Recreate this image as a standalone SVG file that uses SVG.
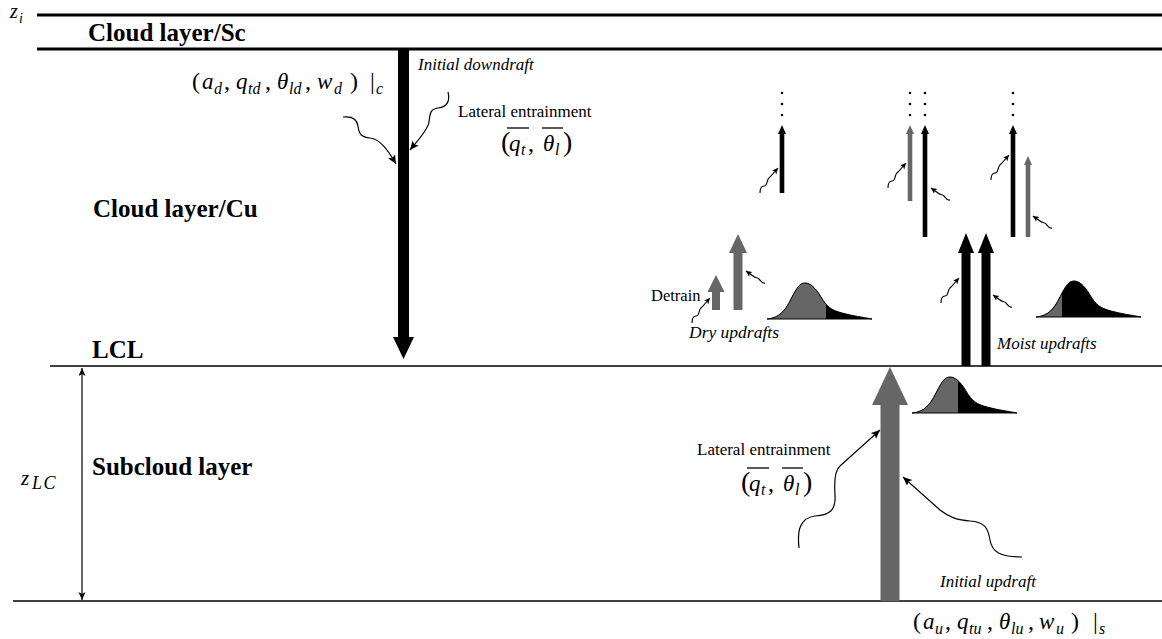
<svg xmlns="http://www.w3.org/2000/svg" xmlns:xlink="http://www.w3.org/1999/xlink" width="1162" height="639" viewBox="0 0 1162 639" font-family="'Liberation Serif', 'Times New Roman', Tinos, 'DejaVu Serif', 'Noto Serif', serif">
<style>
text{font-family:"Liberation Serif","Times New Roman",Tinos,"DejaVu Serif","Noto Serif",serif}
.lbl{font-weight:bold;font-size:25px;fill:#000}
.sm{font-size:17px;fill:#000}
.it{font-style:italic}
.m{font-size:23px;font-style:italic;fill:#000}
.r{font-style:normal;font-size:24px}
.s{font-size:16px}
.wave{fill:none;stroke:#000;stroke-width:1.1}
.wavel{fill:none;stroke:#000;stroke-width:1.2}
.g{fill:#666}
.k{fill:#000}
.ov{stroke:#000;stroke-width:1.3}
</style>
<defs>
<marker id="ah" markerUnits="userSpaceOnUse" markerWidth="10" markerHeight="10" refX="6" refY="3" orient="auto"><path d="M0,0 L6,3 L0,6 L1.5,3 z" fill="#000"/></marker>
<marker id="ahL" markerUnits="userSpaceOnUse" markerWidth="12" markerHeight="12" refX="9" refY="4" orient="auto"><path d="M0,0 L9,4 L0,8 L2,4 z" fill="#000"/></marker>
<marker id="ahZ" markerUnits="userSpaceOnUse" markerWidth="12" markerHeight="12" refX="8" refY="3.5" orient="auto-start-reverse"><path d="M0,0 L8,3.5 L0,7 L2,3.5 z" fill="#000"/></marker>
<path id="dist" d="M0,0 C12,-1 18,-8 24,-20 S33,-36 38,-36 S48,-32 54,-22 S64,-9 75,-6 S95,-2 105,0 Z"/>
<clipPath id="cDry"><rect x="-5" y="-50" width="64" height="60"/></clipPath>
<clipPath id="cMoist"><rect x="-5" y="-50" width="31" height="60"/></clipPath>
<clipPath id="cSub"><rect x="-5" y="-50" width="51" height="60"/></clipPath>
</defs>
<rect width="1162" height="639" fill="#fff"/>

<g id="layers">
  <line x1="37" y1="15" x2="1162" y2="15" stroke="#000" stroke-width="3"/>
  <line x1="37" y1="49" x2="1162" y2="49" stroke="#000" stroke-width="3"/>
  <line x1="50" y1="366" x2="1162" y2="366" stroke="#000" stroke-width="1.5"/>
  <line x1="13" y1="601" x2="1162" y2="601" stroke="#000" stroke-width="1.5"/>
  <text class="m" x="10" y="18" style="font-size:20px">z<tspan x="19" y="23" style="font-size:14px">i</tspan></text>
  <text class="lbl" x="88" y="41">Cloud layer/Sc</text>
  <text class="lbl" x="93" y="217">Cloud layer/Cu</text>
  <text class="lbl" x="92" y="358">LCL</text>
  <text class="lbl" x="92" y="475">Subcloud layer</text>
  <text class="m" x="21" y="485" style="font-size:21px">z<tspan x="32" y="489" style="font-size:18px;letter-spacing:1.5px">LC</tspan></text>
</g>

<g id="connectors">
  <line x1="82" y1="368" x2="82" y2="600" stroke="#000" stroke-width="1.2" marker-start="url(#ahZ)" marker-end="url(#ahZ)"/>
  <path class="wavel" d="M343,117 C352,116 357,119 358,126 C359,135 362,137 370,138 C380,139 388,150 396,164" marker-end="url(#ahL)"/>
  <path class="wavel" d="M448,92 C450,100 448,107 438,108 C430,109 430,114 429,122 C428,130 418,140 410,150" marker-end="url(#ahL)"/>
  <path class="wavel" d="M799,548 C797,530 800,518 815,516 C830,515 836,510 835,495 C834,480 835,470 840,466 L880,430" marker-end="url(#ahL)"/>
  <path class="wavel" d="M1022,557 C1000,557 992,552 990,540 C988,528 985,522 970,521 C958,520 950,518 940,510 L903,477" marker-end="url(#ahL)"/>
  <path class="wave" d="M760,193 c0,-4 1,-7 4,-7 c4,0 2,-7 6,-9 l8,-9" marker-end="url(#ah)"/>
  <path class="wave" d="M888,188 c0,-4 1,-7 4,-7 c4,0 2,-7 6,-9 l8,-9" marker-end="url(#ah)"/>
  <path class="wave" d="M991,180 c0,-4 1,-7 4,-7 c4,0 2,-7 6,-9 l8,-9" marker-end="url(#ah)"/>
  <path class="wave" d="M941,303 c0,-4 1,-7 4,-7 c4,0 2,-7 6,-9 l8,-9" marker-end="url(#ah)"/>
  <path class="wave" d="M692,323 c0,-4 1,-7 4,-7 c4,0 2,-7 6,-9 l8,-9" marker-end="url(#ah)"/>
  <path class="wave" d="M950,200 c-3,1 -4,-2 -6,-4 c-2,-2 -4,-1 -6,-3 l-7,-5" marker-end="url(#ah)"/>
  <path class="wave" d="M1052,228 c-3,1 -4,-2 -6,-4 c-2,-2 -4,-1 -6,-3 l-7,-5" marker-end="url(#ah)"/>
  <path class="wave" d="M1012,307 c-3,1 -4,-2 -6,-4 c-2,-2 -4,-1 -6,-3 l-7,-5" marker-end="url(#ah)"/>
  <path class="wave" d="M765,283 c-3,1 -4,-2 -6,-4 c-2,-2 -4,-1 -6,-3 l-7,-5" marker-end="url(#ah)"/>
</g>

<g id="downdraft">
  <rect class="k" x="398" y="49" width="11" height="289"/>
  <polygon class="k" points="393,337 414,337 403.5,359"/>
  <text class="sm it" x="418" y="70">Initial downdraft</text>
  <text class="m" y="89"><tspan class="r" x="192">(</tspan><tspan x="202">a</tspan><tspan class="s" x="214" y="94">d</tspan><tspan class="r" x="224" y="89">,</tspan><tspan x="236">q</tspan><tspan class="s" x="248" y="94">td</tspan><tspan class="r" x="265" y="89">,</tspan><tspan x="277">θ</tspan><tspan class="s" x="289" y="94">ld</tspan><tspan class="r" x="305" y="89">,</tspan><tspan x="317">w</tspan><tspan class="s" x="334" y="94">d</tspan><tspan class="r" x="350" y="89">)</tspan><tspan class="r" x="370">|</tspan><tspan class="s" x="376" y="94">c</tspan></text>
</g>

<g id="entrain-upper">
  <text class="sm" x="458" y="117">Lateral entrainment</text>
  <text class="m" y="151"><tspan class="r" x="501" style="font-size:28px">(</tspan><tspan x="509">q</tspan><tspan class="s" x="521" y="155">t</tspan><tspan class="r" x="528" y="151">,</tspan><tspan x="543">θ</tspan><tspan class="s" x="555" y="155">l</tspan><tspan class="r" x="563" y="151" style="font-size:28px">)</tspan></text>
  <line class="ov" x1="507" y1="128" x2="529" y2="128"/>
  <line class="ov" x1="542" y1="128" x2="563" y2="128"/>
</g>

<g id="updraft-col1">
  <rect class="k" x="779.7" y="133" width="4.6" height="60"/>
  <polygon class="k" points="778,134 786,134 782,125"/>
  <circle cx="782" cy="93" r="1.3"/><circle cx="782" cy="104" r="1.3"/><circle cx="782" cy="115" r="1.3"/>
</g>
<g id="updraft-col2">
  <rect class="g" x="907.7" y="133" width="4.6" height="68"/>
  <polygon class="g" points="906,134 914,134 910,125"/>
  <rect class="k" x="922.7" y="133" width="4.6" height="104"/>
  <polygon class="k" points="921,134 929,134 925,125"/>
  <circle cx="910" cy="93" r="1.3"/><circle cx="910" cy="104" r="1.3"/><circle cx="910" cy="115" r="1.3"/>
  <circle cx="925" cy="93" r="1.3"/><circle cx="925" cy="104" r="1.3"/><circle cx="925" cy="115" r="1.3"/>
</g>
<g id="updraft-col3">
  <rect class="k" x="1010.7" y="133" width="4.6" height="104"/>
  <polygon class="k" points="1009,134 1017,134 1013,125"/>
  <rect class="g" x="1025.7" y="164" width="4.6" height="73"/>
  <polygon class="g" points="1024,165 1032,165 1028,156"/>
  <circle cx="1013" cy="93" r="1.3"/><circle cx="1013" cy="104" r="1.3"/><circle cx="1013" cy="115" r="1.3"/>
</g>

<g id="dry-updrafts">
  <rect class="g" x="712" y="291" width="8" height="19"/>
  <polygon class="g" points="707.5,292 724.5,292 716,275"/>
  <rect class="g" x="733.5" y="252" width="9" height="58"/>
  <polygon class="g" points="729,253 747,253 738,234"/>
  <text class="sm" x="651" y="301" style="font-size:16.5px">Detrain</text>
  <text class="sm it" x="689" y="338" style="font-size:17.5px">Dry updrafts</text>
  <g transform="translate(767,319)">
    <use xlink:href="#dist" fill="#000"/>
    <use xlink:href="#dist" fill="#666" clip-path="url(#cDry)"/>
    <use xlink:href="#dist" fill="none" stroke="#000" stroke-width="1"/>
  </g>
</g>

<g id="moist-updrafts">
  <rect class="k" x="961.5" y="252" width="9" height="114"/>
  <polygon class="k" points="958,253 974,253 966,233"/>
  <rect class="k" x="981.5" y="252" width="9" height="114"/>
  <polygon class="k" points="978,253 994,253 986,233"/>
  <text class="sm it" x="997" y="349">Moist updrafts</text>
  <g transform="translate(1036,317)">
    <use xlink:href="#dist" fill="#000"/>
    <use xlink:href="#dist" fill="#666" clip-path="url(#cMoist)"/>
    <use xlink:href="#dist" fill="none" stroke="#000" stroke-width="1"/>
  </g>
</g>

<g id="initial-updraft">
  <rect class="g" x="880.5" y="404" width="19" height="197"/>
  <polygon class="g" points="872,405 908,405 890,367"/>
  <g transform="translate(912,413)">
    <use xlink:href="#dist" fill="#000"/>
    <use xlink:href="#dist" fill="#666" clip-path="url(#cSub)"/>
    <use xlink:href="#dist" fill="none" stroke="#000" stroke-width="1"/>
  </g>
  <text class="sm it" x="940" y="587">Initial updraft</text>
  <text class="m" y="629"><tspan class="r" x="913">(</tspan><tspan x="923">a</tspan><tspan class="s" x="935" y="634">u</tspan><tspan class="r" x="945" y="629">,</tspan><tspan x="957">q</tspan><tspan class="s" x="969" y="634">tu</tspan><tspan class="r" x="987" y="629">,</tspan><tspan x="999">θ</tspan><tspan class="s" x="1011" y="634">lu</tspan><tspan class="r" x="1028" y="629">,</tspan><tspan x="1039">w</tspan><tspan class="s" x="1056" y="634">u</tspan><tspan class="r" x="1071" y="629">)</tspan><tspan class="r" x="1093">|</tspan><tspan class="s" x="1099" y="634">s</tspan></text>
</g>

<g id="entrain-lower">
  <text class="sm" x="697" y="455">Lateral entrainment</text>
  <text class="m" y="491"><tspan class="r" x="741" style="font-size:28px">(</tspan><tspan x="749">q</tspan><tspan class="s" x="761" y="495">t</tspan><tspan class="r" x="768" y="491">,</tspan><tspan x="783">θ</tspan><tspan class="s" x="795" y="495">l</tspan><tspan class="r" x="803" y="491" style="font-size:28px">)</tspan></text>
  <line class="ov" x1="747" y1="468" x2="769" y2="468"/>
  <line class="ov" x1="782" y1="468" x2="803" y2="468"/>
</g>
</svg>
